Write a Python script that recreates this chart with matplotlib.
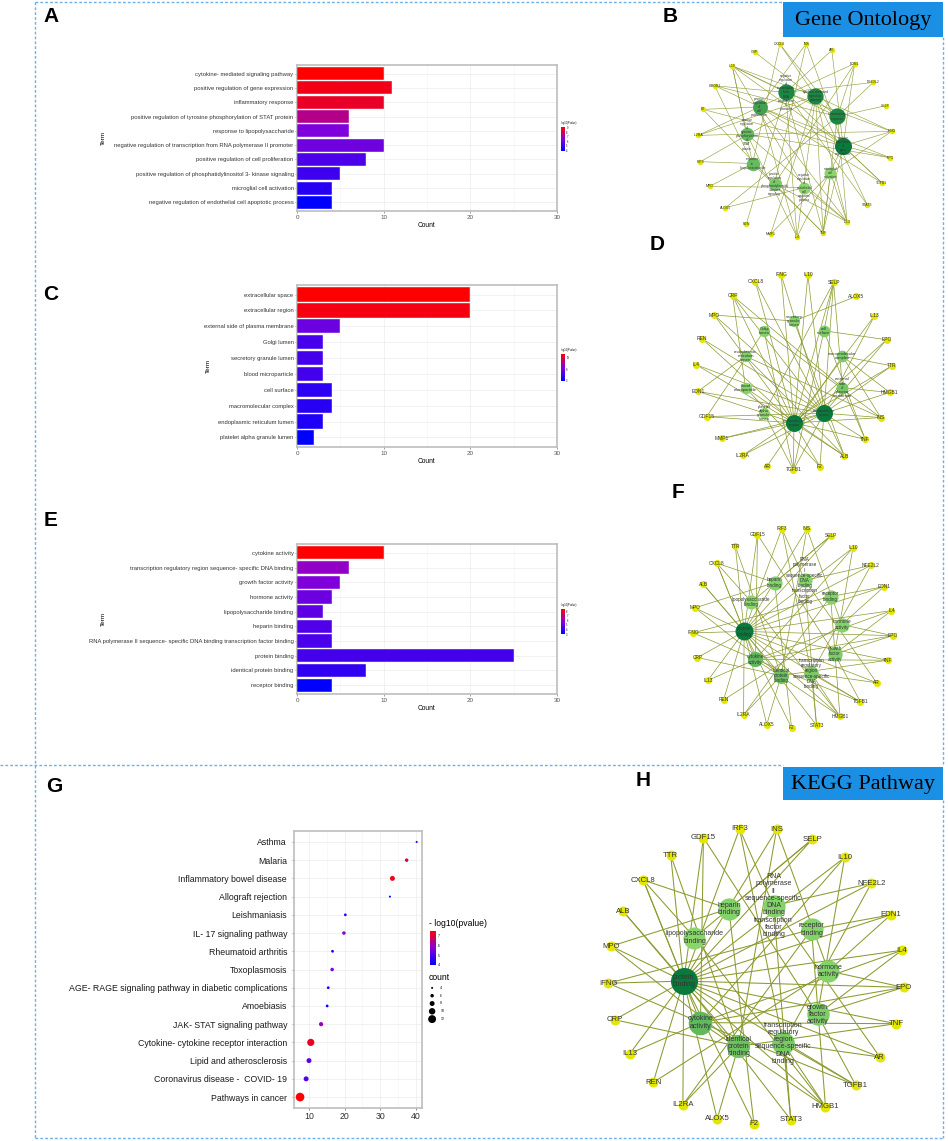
import numpy as np
import matplotlib
matplotlib.use('Agg')
import matplotlib.pyplot as plt
from matplotlib.colors import LinearSegmentedColormap, Normalize, to_rgb
from matplotlib.cm import ScalarMappable
from matplotlib.patches import Rectangle

plt.rcParams['font.family'] = ['Liberation Sans', 'DejaVu Sans']

# ---------------- data ----------------
# GO biological process (panel A / B)
bp_terms = ['cytokine- mediated signaling pathway', 'positive regulation of gene expression',
            'inflammatory response', 'positive regulation of tyrosine phosphorylation of STAT protein',
            'response to lipopolysaccharide', 'negative regulation of transcription from RNA polymerase II promoter',
            'positive regulation of cell proliferation', 'positive regulation of phosphatidylinositol 3- kinase signaling',
            'microglial cell activation', 'negative regulation of endothelial cell apoptotic process']
bp_counts = [10, 11, 10, 6, 6, 10, 8, 5, 4, 4]
bp_logp = [9.2, 8.9, 8.7, 7.5, 6.3, 6.0, 5.3, 5.0, 4.6, 3.8]

# GO cellular component (panel C / D)
cc_terms = ['extracellular space', 'extracellular region', 'external side of plasma membrane', 'Golgi lumen',
            'secretory granule lumen', 'blood microparticle', 'cell surface', 'macromolecular complex',
            'endoplasmic reticulum lumen', 'platelet alpha granule lumen']
cc_counts = [20, 20, 5, 3, 3, 3, 4, 4, 3, 2]
cc_logp = [14.5, 14.0, 7.5, 6.0, 5.9, 5.8, 4.8, 4.7, 4.3, 3.0]

# GO molecular function (panel E / F)
mf_terms = ['cytokine activity', 'transcription regulatory region sequence- specific DNA binding',
            'growth factor activity', 'hormone activity', 'lipopolysaccharide binding', 'heparin binding',
            'RNA polymerase II sequence- specific DNA binding transcription factor binding',
            'protein binding', 'identical protein binding', 'receptor binding']
mf_counts = [10, 6, 5, 4, 3, 4, 4, 25, 8, 4]
mf_logp = [8.5, 6.0, 5.6, 5.2, 4.9, 4.6, 4.5, 4.4, 4.0, 3.0]

# KEGG (panel G)
kegg_terms = ['Asthma', 'Malaria', 'Inflammatory bowel disease', 'Allograft rejection', 'Leishmaniasis',
              'IL- 17 signaling pathway', 'Rheumatoid arthritis', 'Toxoplasmosis',
              'AGE- RAGE signaling pathway in diabetic complications', 'Amoebiasis',
              'JAK- STAT signaling pathway', 'Cytokine- cytokine receptor interaction',
              'Lipid and atherosclerosis', 'Coronavirus disease -  COVID- 19', 'Pathways in cancer']
kegg_x = [40.2, 37.4, 33.4, 32.7, 20.2, 19.8, 16.6, 16.5, 15.4, 15.1, 13.4, 10.5, 10.0, 9.2, 7.5]
kegg_count = [4, 6, 8, 4, 5, 6, 5, 6, 5, 5, 7, 11, 8, 8, 13]
kegg_logp = [4.1, 6.8, 7.3, 4.0, 4.5, 5.7, 4.2, 5.6, 4.2, 4.1, 6.0, 7.2, 5.2, 5.0, 7.5]
count_breaks = [4, 6, 8, 10, 12]
logp_ticks = [4, 5, 6, 7]

# networks: genes listed clockwise, terms listed around the inner ring
bp_genes = ['CXCL8', 'INS', 'AR', 'EDN1', 'NFE2L2', 'SELP', 'IFNG', 'EPO', 'TGFB1', 'STAT3', 'IL13', 'TNF',
            'IL4', 'MMP1', 'REN', 'ALOX5', 'MPO', 'IRF3', 'IL2RA', 'F2', 'HMGB1', 'IL10', 'CRP']
bp_ring = ['inflammatory response', 'cytokine- mediated signaling pathway',
           'negative regulation of transcription from RNA polymerase II promoter',
           'positive regulation of cell proliferation',
           'positive regulation of tyrosine phosphorylation of STAT protein',
           'response to lipopolysaccharide',
           'positive regulation of phosphatidylinositol 3- kinase signaling',
           'negative regulation of endothelial cell apoptotic process',
           'microglial cell activation', 'positive regulation of gene expression']
bp_links = {
    'cytokine- mediated signaling pathway': ['CXCL8', 'IL4', 'IL13', 'IL10', 'IFNG', 'TNF', 'IL2RA', 'IRF3', 'STAT3', 'MMP1'],
    'positive regulation of gene expression': ['INS', 'AR', 'TGFB1', 'TNF', 'IFNG', 'IL4', 'HMGB1', 'EDN1', 'F2', 'IL10', 'EPO'],
    'inflammatory response': ['CXCL8', 'SELP', 'TNF', 'HMGB1', 'ALOX5', 'CRP', 'IL10', 'IL13', 'EDN1', 'NFE2L2'],
    'positive regulation of tyrosine phosphorylation of STAT protein': ['IL4', 'IL13', 'IFNG', 'IL10', 'EPO', 'IL2RA'],
    'response to lipopolysaccharide': ['CXCL8', 'TNF', 'IL10', 'HMGB1', 'MPO', 'IRF3'],
    'negative regulation of transcription from RNA polymerase II promoter': ['AR', 'IFNG', 'STAT3', 'TGFB1', 'IL10', 'HMGB1', 'NFE2L2', 'TNF', 'IL4', 'REN'],
    'positive regulation of cell proliferation': ['INS', 'EDN1', 'IL13', 'IL4', 'TGFB1', 'EPO', 'IL2RA', 'F2'],
    'positive regulation of phosphatidylinositol 3- kinase signaling': ['INS', 'EDN1', 'IL13', 'TNF', 'F2'],
    'microglial cell activation': ['IFNG', 'TNF', 'IL13', 'MMP1'],
    'negative regulation of endothelial cell apoptotic process': ['IL10', 'IL13', 'ALOX5', 'MPO'],
}

cc_genes = ['IFNG', 'IL10', 'SELP', 'ALOX5', 'IL13', 'EPO', 'TTR', 'HMGB1', 'INS', 'TNF', 'ALB', 'F2',
            'TGFB1', 'AR', 'IL2RA', 'MMP1', 'GDF15', 'EDN1', 'IL4', 'REN', 'MPO', 'CRP', 'CXCL8']
cc_ring = ['extracellular region', 'extracellular space', 'external side of plasma membrane',
           'macromolecular complex', 'cell surface', 'secretory granule lumen', 'Golgi lumen',
           'endoplasmic reticulum lumen', 'blood microparticle', 'platelet alpha granule lumen']
cc_links = {
    'extracellular space': ['IFNG', 'IL10', 'SELP', 'IL13', 'EPO', 'TTR', 'INS', 'TNF', 'ALB', 'F2', 'TGFB1',
                            'IL2RA', 'MMP1', 'GDF15', 'EDN1', 'IL4', 'REN', 'MPO', 'CRP', 'CXCL8'],
    'extracellular region': ['IFNG', 'IL10', 'SELP', 'IL13', 'EPO', 'TTR', 'HMGB1', 'INS', 'TNF', 'ALB', 'F2',
                             'TGFB1', 'MMP1', 'GDF15', 'EDN1', 'IL4', 'REN', 'MPO', 'CRP', 'CXCL8'],
    'external side of plasma membrane': ['SELP', 'TNF', 'IL2RA', 'HMGB1', 'CRP'],
    'Golgi lumen': ['INS', 'TGFB1', 'GDF15'],
    'secretory granule lumen': ['ALOX5', 'MPO', 'ALB'],
    'blood microparticle': ['ALB', 'F2', 'CRP'],
    'cell surface': ['SELP', 'TGFB1', 'EPO', 'TNF'],
    'macromolecular complex': ['AR', 'HMGB1', 'TTR', 'INS'],
    'endoplasmic reticulum lumen': ['ALB', 'INS', 'EDN1'],
    'platelet alpha granule lumen': ['SELP', 'TGFB1'],
}

mf_genes = ['INS', 'SELP', 'IL10', 'NFE2L2', 'EDN1', 'IL4', 'EPO', 'TNF', 'AR', 'TGFB1', 'HMGB1', 'STAT3',
            'F2', 'ALOX5', 'IL2RA', 'REN', 'IL13', 'CRP', 'IFNG', 'MPO', 'ALB', 'CXCL8', 'TTR', 'GDF15', 'IRF3']
mf_ring = ['protein binding', 'cytokine activity', 'identical protein binding',
           'transcription regulatory region sequence- specific DNA binding', 'growth factor activity',
           'hormone activity', 'receptor binding',
           'RNA polymerase II sequence- specific DNA binding transcription factor binding',
           'heparin binding', 'lipopolysaccharide binding']
mf_links = {
    'protein binding': list(mf_genes),
    'cytokine activity': ['IL10', 'IL4', 'IL13', 'IFNG', 'TNF', 'CXCL8', 'GDF15', 'TGFB1', 'HMGB1', 'EPO'],
    'transcription regulatory region sequence- specific DNA binding': ['STAT3', 'NFE2L2', 'AR', 'IRF3', 'HMGB1', 'TGFB1'],
    'growth factor activity': ['GDF15', 'TGFB1', 'IL10', 'IL4', 'EPO'],
    'hormone activity': ['INS', 'EPO', 'REN', 'EDN1'],
    'lipopolysaccharide binding': ['HMGB1', 'SELP', 'CXCL8'],
    'heparin binding': ['SELP', 'CXCL8', 'F2', 'MPO'],
    'RNA polymerase II sequence- specific DNA binding transcription factor binding': ['STAT3', 'AR', 'IRF3', 'NFE2L2'],
    'identical protein binding': ['ALB', 'TTR', 'INS', 'TNF', 'MPO', 'CRP', 'ALOX5', 'IL2RA'],
    'receptor binding': ['EDN1', 'IL2RA', 'IFNG', 'HMGB1'],
}

# ---------------- figure ----------------
W, H = 948, 1141
fig = plt.figure(figsize=(W / 100, H / 100), dpi=100)
fig.patch.set_facecolor('white')


def box(x0, y0, x1, y1):
    # pixel box (top-left origin) -> figure rect
    return [x0 / W, 1 - y1 / H, (x1 - x0) / W, (y1 - y0) / H]


cmap = LinearSegmentedColormap.from_list('bluered', ['#0000ff', '#8800d8', '#ff0000'])


def gg_style(ax):
    ax.set_facecolor('white')
    for s in ax.spines.values():
        s.set_color('#bdbdbd')
        s.set_linewidth(1.2)
    ax.tick_params(colors='#555555', length=1.5, width=0.4)


def bar_panel(rect, terms, counts, logp, term_x, cbar_rect):
    ax = fig.add_axes(box(*rect))
    gg_style(ax)
    norm = Normalize(min(logp), max(logp))
    y = np.arange(len(terms))
    ax.barh(y, counts, height=0.9, color=cmap(norm(np.array(logp))), edgecolor='white',
            linewidth=0.3, zorder=3)
    ax.set_xlim(0, 30)
    ax.set_ylim(len(terms) - 0.4, -0.6)
    ax.set_yticks(y)
    ax.set_yticklabels(terms, fontsize=4.2, color='#333333')
    ax.set_xticks([0, 10, 20, 30])
    ax.set_xticks([5, 15, 25], minor=True)
    ax.tick_params(axis='x', labelsize=4.5, pad=1.5)
    ax.tick_params(axis='y', pad=1)
    ax.tick_params(which='minor', length=0)
    ax.grid(True, which='major', color='#ebebeb', lw=0.5, zorder=0)
    ax.grid(True, which='minor', axis='x', color='#f3f3f3', lw=0.4, zorder=0)
    ax.set_xlabel('Count', fontsize=4.8, labelpad=1)
    fig.text(term_x / W, 1 - (rect[1] + rect[3]) / 2 / H, 'Term', rotation=90, fontsize=4.6,
             ha='center', va='center')
    cax = fig.add_axes(box(*cbar_rect))
    cb = fig.colorbar(ScalarMappable(norm=norm, cmap=cmap), cax=cax)
    cb.outline.set_visible(False)
    cb.ax.tick_params(labelsize=1.8, length=0, pad=1)
    cb.set_ticks(np.arange(np.ceil(min(logp)), max(logp) + 0.01, 1 if max(logp) < 10 else 5))
    fig.text(cbar_rect[0] / W, 1 - (cbar_rect[1] - 3) / H, '-log10(Pvalue)', fontsize=1.8, ha='left')
    return ax


bar_panel((297, 65, 557, 211), bp_terms, bp_counts, bp_logp, 103, (561, 127, 565, 151))
bar_panel((297, 285, 557, 447), cc_terms, cc_counts, cc_logp, 208, (561, 354, 565, 381))
bar_panel((297, 544, 557, 694), mf_terms, mf_counts, mf_logp, 103, (561, 609, 565, 634))

# ---------------- KEGG dot plot ----------------
axg = fig.add_axes(box(294, 831, 422, 1108))
gg_style(axg)
yk = np.arange(len(kegg_terms))
knorm = Normalize(min(kegg_logp), max(kegg_logp))


def dot_size(c):
    r_px = 1.0 + 0.37 * (c - 4)
    return (2 * r_px * 0.72) ** 2


axg.scatter(kegg_x, yk, s=[dot_size(c) for c in kegg_count], c=kegg_logp, cmap=cmap, norm=knorm,
            zorder=3, linewidths=0)
axg.set_xlim(5.8, 41.7)
axg.set_ylim(len(kegg_terms) - 0.4, -0.6)
axg.set_yticks(yk)
axg.set_yticklabels(kegg_terms, fontsize=6.3, color='#1a1a1a')
axg.set_xticks([10, 20, 30, 40])
axg.set_xticks([15, 25, 35], minor=True)
axg.tick_params(axis='x', labelsize=6.3, colors='#333333', pad=1.5)
axg.tick_params(which='minor', length=0)
axg.grid(True, which='major', color='#ebebeb', lw=0.5, zorder=0)
axg.grid(True, which='minor', axis='x', color='#f3f3f3', lw=0.4, zorder=0)

fig.text(429 / W, 1 - 923 / H, '- log10(pvalue)', fontsize=6.2, ha='left', va='center')
gcax = fig.add_axes(box(430, 931, 436, 965))
gcb = fig.colorbar(ScalarMappable(norm=knorm, cmap=cmap), cax=gcax)
gcb.outline.set_visible(False)
gcb.set_ticks(logp_ticks)
gcb.ax.tick_params(labelsize=2.5, length=0, pad=1.5)
fig.text(429 / W, 1 - 978 / H, 'count', fontsize=6.2, ha='left', va='center')
lax = fig.add_axes(box(426, 984, 460, 1023))
lax.set_xlim(0, 1)
lax.set_ylim(len(count_breaks) - 0.5, -0.5)
lax.axis('off')
lax.scatter(np.full(len(count_breaks), 0.18), np.arange(len(count_breaks)),
            s=[dot_size(c) for c in count_breaks], color='black', linewidths=0)
for i, c in enumerate(count_breaks):
    lax.text(0.42, i, str(c), fontsize=2.5, va='center', ha='left')


# ---------------- networks ----------------
light_green = np.array(to_rgb('#8ad66c'))
dark_green = np.array(to_rgb('#0a7a3c'))


def network(cx, cy, r, genes, gene_start, ring, term_start, term_r, links,
            gene_d, term_d, fs_gene, fs_term, lw):
    pad = 1.25
    ax = fig.add_axes(box(cx - pad * r, cy - pad * r, cx + pad * r, cy + pad * r))
    ax.set_xlim(-pad, pad)
    ax.set_ylim(-pad, pad)
    ax.axis('off')
    n = len(genes)
    ga = np.deg2rad(gene_start - np.arange(n) * 360.0 / n)
    gpos = {g: (np.cos(a), np.sin(a)) for g, a in zip(genes, ga)}
    ta = np.deg2rad(term_start + np.arange(len(ring)) * 360.0 / len(ring))
    tpos = {t: (term_r * np.cos(a), term_r * np.sin(a)) for t, a in zip(ring, ta)}
    for t in ring:
        for g in links[t]:
            ax.plot([tpos[t][0], gpos[g][0]], [tpos[t][1], gpos[g][1]], color='#8c9a2e', lw=lw, zorder=1)
    degs = [len(links[t]) for t in ring]
    dmin, dmax = min(degs), max(degs)
    for t, d in zip(ring, degs):
        f = (d - dmin) / (dmax - dmin)
        col = light_green + (dark_green - light_green) * f
        size = term_d[0] + (term_d[1] - term_d[0]) * f
        ax.scatter(*tpos[t], s=(size * 0.72) ** 2, color=col, linewidths=0, zorder=2)
        label = t.replace('- ', '-').replace(' ', '\n')
        ax.text(*tpos[t], label, fontsize=fs_term, ha='center', va='center', linespacing=1.05,
                color='#333333', zorder=4)
    for g in genes:
        ax.scatter(*gpos[g], s=(gene_d * 0.72) ** 2, color='#e3e600', linewidths=0, zorder=3)
        ax.text(*gpos[g], g, fontsize=fs_gene, ha='center', va='center', color='#333333', zorder=4)


network(795, 140, 97, bp_genes, 99, bp_ring, 29, 0.5, bp_links, 5.5, (12, 17), 2.5, 2.3, 0.4)
network(794, 372, 98, cc_genes, 97.5, cc_ring, -90, 0.52, cc_links, 7, (11, 17), 3.6, 3.0, 0.5)
network(793, 628, 100, mf_genes, 82, mf_ring, 184, 0.49, mf_links, 7, (14, 18), 3.5, 3.3, 0.5)
network(756, 976, 148, mf_genes, 82, mf_ring, 184, 0.49, mf_links, 10, (22, 27), 5.6, 5.0, 0.75)

# ---------------- frame, labels ----------------
ov = fig.add_axes([0, 0, 1, 1], zorder=-1)
ov.set_xlim(0, W)
ov.set_ylim(H, 0)
ov.axis('off')
dash = dict(color='#6db0ea', lw=1.0, linestyle=(0, (2, 1.5)))
ov.plot([35, 783], [2, 2], **dash)
ov.plot([35, 35], [2, 1138], **dash)
ov.plot([0, 783], [765, 765], **dash)
ov.plot([943, 943], [37, 765], **dash)
ov.plot([943, 943], [800, 1138], **dash)
ov.plot([35, 943], [1138, 1138], **dash)
ov.add_patch(Rectangle((783, 2), 160, 35, color='#1a8fe3', lw=0))
ov.add_patch(Rectangle((783, 767), 160, 33, color='#1a8fe3', lw=0))

fig.text(863 / W, 1 - 20 / H, 'Gene Ontology', fontsize=16, family='Liberation Serif', ha='center', va='center')
fig.text(863 / W, 1 - 784 / H, 'KEGG Pathway', fontsize=16, family='Liberation Serif', ha='center', va='center')

for letter, x, y in [('A', 51, 16), ('B', 670, 16), ('C', 51, 294), ('D', 657, 245),
                     ('E', 51, 520), ('F', 678, 493), ('G', 54, 786), ('H', 643, 780)]:
    fig.text(x / W, 1 - y / H, letter, fontsize=15, fontweight='bold', ha='center', va='center')

fig.savefig('out.png', dpi=100, facecolor='white')
